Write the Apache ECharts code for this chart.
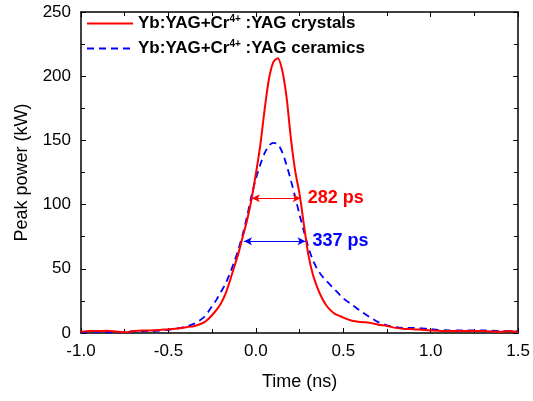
<!DOCTYPE html>
<html>
<head>
<meta charset="utf-8">
<script src="https://cdn.jsdelivr.net/npm/echarts@6/dist/echarts.min.js"></script>
<style>
  html, body { margin: 0; padding: 0; background: #fff; }
  #chart { width: 533px; height: 401px; }
</style>
</head>
<body>
<div id="chart"></div>
<script>
// pulse traces
const crystalTime = [-1.0, -0.95, -0.9, -0.85, -0.8, -0.75, -0.7, -0.65, -0.6, -0.55, -0.5, -0.45, -0.4, -0.35, -0.3, -0.275, -0.25, -0.225, -0.2, -0.175, -0.15, -0.125, -0.1, -0.075, -0.05, -0.025, 0.0, 0.025, 0.05, 0.075, 0.1, 0.125, 0.15, 0.175, 0.2, 0.225, 0.25, 0.275, 0.3, 0.325, 0.35, 0.375, 0.4, 0.425, 0.45, 0.475, 0.5, 0.55, 0.6, 0.65, 0.7, 0.75, 0.8, 0.85, 0.9, 0.95, 1.0, 1.1, 1.2, 1.3, 1.4, 1.45, 1.5];
const crystalPower = [1, 1.5, 1.5, 1.8, 1.2, 0.5, 1.5, 2, 2, 2.3, 3, 3.5, 4.5, 5.5, 8, 10.5, 14, 18, 23, 30, 40, 51, 62, 75, 88, 104, 124, 146, 174, 198, 211, 214, 205, 184, 152, 126, 108, 84, 61, 46, 36, 28, 22, 18, 15, 13.5, 12, 9.5, 8.5, 8, 6.5, 5.5, 4, 3.2, 3, 2.5, 2, 1.5, 1.5, 1.5, 1, 1.5, 0.5];

const ceramicTime = [-1.0, -0.9, -0.8, -0.7, -0.6, -0.5, -0.45, -0.4, -0.35, -0.3, -0.275, -0.25, -0.225, -0.2, -0.175, -0.15, -0.125, -0.1, -0.075, -0.05, -0.025, 0.0, 0.025, 0.05, 0.075, 0.1, 0.125, 0.15, 0.175, 0.2, 0.225, 0.25, 0.275, 0.3, 0.325, 0.35, 0.375, 0.4, 0.45, 0.5, 0.55, 0.6, 0.65, 0.7, 0.75, 0.8, 0.85, 0.9, 1.0, 1.1, 1.2, 1.3, 1.4, 1.5];
const ceramicPower = [0.5, 1, 0.5, 1.2, 1.5, 2.5, 3.5, 5, 7.5, 12, 16, 21, 26, 32, 38, 46, 55, 65, 77, 91, 107, 120, 131, 140, 146, 148, 147, 141, 131, 119, 106, 92, 79, 67, 57, 50, 45, 41, 34, 27, 22, 17, 12.5, 8.5, 6, 4.5, 4, 4, 3, 2, 2, 2, 1.5, 1.5];

// FWHM markers: [start, end, level, label]
const crystalFwhm = [-0.023, 0.256, 105, '282 ps'];
const ceramicFwhm = [-0.068, 0.284, 71.5, '337 ps'];

const seriesNames = ['crystals', 'ceramics'];

const FONT = 'Liberation Sans, Arial, sans-serif';

const chart = echarts.init(document.getElementById('chart'), null, { renderer: 'canvas' });

function pairs(xs, ys) {
  return xs.map((x, i) => [x, ys[i]]);
}

function fwhmLine(f, color) {
  return {
    silent: true,
    symbol: ['arrow', 'arrow'],
    symbolSize: [6, 8],
    lineStyle: { color, width: 1.2, type: 'solid' },
    label: {
      show: true,
      position: 'end',
      distance: 7,
      formatter: f[3],
      color,
      fontFamily: FONT,
      fontSize: 18,
      fontWeight: 'bold'
    },
    emphasis: { disabled: true },
    animation: false,
    data: [[{ coord: [f[0], f[2]] }, { coord: [f[1], f[2]] }]]
  };
}

const legendRich = {
  b: { fontFamily: FONT, fontSize: 17, fontWeight: 'bold', color: '#000' },
  s: { fontFamily: FONT, fontSize: 10, fontWeight: 'bold', color: '#000', padding: [0, 0, 9, 0] }
};

const axisCommon = {
  axisLine: { show: true, onZero: false, lineStyle: { color: '#000', width: 1.5 } },
  axisTick: { show: true, inside: true, length: 5, lineStyle: { color: '#000', width: 1 } },
  minorTick: { show: true, splitNumber: 2, length: 4, lineStyle: { color: '#000', width: 1 } },
  splitLine: { show: false }
};

chart.setOption({
  backgroundColor: '#fff',
  animation: false,
  grid: { left: 81, right: 12, top: 12, bottom: 68 },
  legend: {
    orient: 'vertical',
    left: 82,
    top: 12,
    itemWidth: 46,
    itemHeight: 12,
    itemGap: 7,
    padding: [2, 4],
    itemStyle: { opacity: 0 },
    data: seriesNames,
    formatter: function (name) {
      return '{b|Yb:YAG+Cr}{s|4+}{b| :YAG ' + name + '}';
    },
    textStyle: { rich: legendRich }
  },
  xAxis: [
    Object.assign({}, axisCommon, {
      type: 'value',
      min: -1.0,
      max: 1.5,
      interval: 0.5,
      name: 'Time (ns)',
      nameLocation: 'middle',
      nameGap: 40,
      nameTextStyle: { fontFamily: FONT, fontSize: 18, color: '#000' },
      axisLabel: {
        fontFamily: FONT, fontSize: 17, color: '#000', margin: 10,
        formatter: v => v.toFixed(1)
      }
    }),
    Object.assign({}, axisCommon, {
      type: 'value',
      position: 'top',
      min: -1.0,
      max: 1.5,
      interval: 0.5,
      axisLabel: { show: false }
    })
  ],
  yAxis: [
    Object.assign({}, axisCommon, {
      type: 'value',
      min: 0,
      max: 250,
      interval: 50,
      name: 'Peak power (kW)',
      nameLocation: 'middle',
      nameGap: 50,
      nameTextStyle: { fontFamily: FONT, fontSize: 18, color: '#000' },
      axisLabel: { fontFamily: FONT, fontSize: 17, color: '#000', margin: 10 }
    }),
    Object.assign({}, axisCommon, {
      type: 'value',
      position: 'right',
      min: 0,
      max: 250,
      interval: 50,
      axisLabel: { show: false }
    })
  ],
  series: [
    {
      name: seriesNames[0],
      type: 'line',
      data: pairs(crystalTime, crystalPower),
      smooth: 0.3,
      symbol: 'none',
      color: '#ff0000',
      lineStyle: { color: '#ff0000', width: 2 },
      z: 3,
      markLine: fwhmLine(crystalFwhm, '#ff0000')
    },
    {
      name: seriesNames[1],
      type: 'line',
      data: pairs(ceramicTime, ceramicPower),
      smooth: 0.3,
      symbol: 'none',
      color: '#0000ff',
      lineStyle: { color: '#0000ff', width: 1.8, type: [7, 5] },
      z: 2,
      markLine: fwhmLine(ceramicFwhm, '#0000ff')
    }
  ]
});
</script>
</body>
</html>
